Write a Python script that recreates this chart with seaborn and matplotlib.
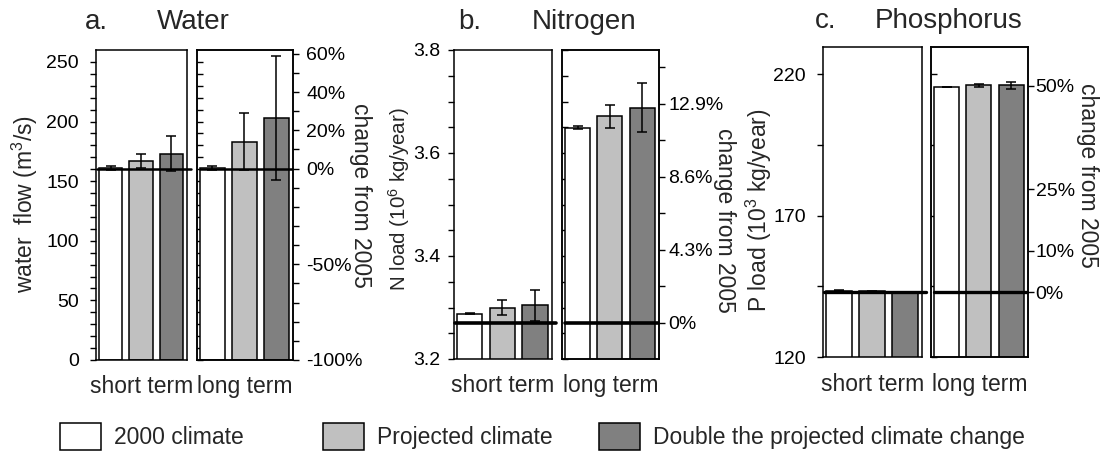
import numpy as np
import matplotlib
matplotlib.use("Agg")
import matplotlib.pyplot as plt
from matplotlib.patches import Patch
from matplotlib.ticker import FixedLocator
import seaborn as sns

# ------------------------------------------------------------------
# data
# ------------------------------------------------------------------
climates = ["2000 climate", "Projected climate", "Double the projected climate change"]
bar_colors = ["#ffffff", "#c0c0c0", "#808080"]

water_short = [161.0, 167.0, 173.0]
water_short_err = [1.5, 6.0, 14.5]
water_long = [161.0, 183.0, 203.0]
water_long_err = [1.5, 24.0, 52.0]
water_base = 160.5                      # 2005 level (0 %)
water_yticks = [0, 50, 100, 150, 200, 250]
water_pct_ticks = [-100, -90, -80, -70, -60, -50, -40, -30, -20, -10, 0, 10, 20, 30, 40, 50, 60]
water_pct_labels = ["-100%", "", "", "", "", "-50%", "", "", "", "", "0%", "", "20%", "", "40%", "", "60%"]

n_short = [3.288, 3.300, 3.304]
n_short_err = [0.0006, 0.015, 0.030]
n_long = [3.649, 3.671, 3.688]
n_long_err = [0.003, 0.022, 0.047]
n_base = 3.27
n_yticks = [3.2, 3.4, 3.6, 3.8]
n_pct_ticks = [-2.15, 0, 2.15, 4.3, 6.45, 8.6, 10.75, 12.9, 15.05]
n_pct_labels = ["", "0%", "", "4.3%", "", "8.6%", "", "12.9%", ""]

p_short = [143.4, 143.2, 142.9]
p_short_err = [0.2, 0.1, 0.1]
p_long = [215.5, 216.0, 216.1]
p_long_err = [0.1, 0.5, 1.2]
p_base = 142.9
p_yticks = [120, 170, 220]
p_pct_ticks = [0, 10, 25, 50]
p_pct_labels = ["0%", "10%", "25%", "50%"]

# ------------------------------------------------------------------
# style
# ------------------------------------------------------------------
sns.set_theme(style="ticks")
plt.rcParams["font.family"] = ["Liberation Sans", "DejaVu Sans"]
plt.rcParams["mathtext.default"] = "regular"
plt.rcParams["axes.edgecolor"] = "black"
plt.rcParams["axes.linewidth"] = 1.1
plt.rcParams["xtick.color"] = "black"
plt.rcParams["ytick.color"] = "black"

W, H = 1106, 454
fig = plt.figure(figsize=(W / 100, H / 100), dpi=100)


def px_axes(x0, x1, y0, y1):
    return fig.add_axes([x0 / W, (H - y1) / H, (x1 - x0) / W, (y1 - y0) / H])


def bars(ax, vals, errs, base, ylim, majors, minor, line_span, line_w):
    sns.barplot(x=climates, y=vals, hue=climates, palette=bar_colors, order=climates,
                hue_order=climates, width=0.77, edgecolor="black", linewidth=1.1,
                errorbar=None, legend=False, ax=ax)
    ax.errorbar(np.arange(len(vals)), vals, yerr=errs, fmt="none", ecolor="black",
                elinewidth=1.1, capsize=3.5, capthick=1.1, zorder=5)
    ax.axhline(base, xmin=line_span[0], xmax=line_span[1], color="black", lw=line_w,
               zorder=4, clip_on=False)
    ax.set_xlim(-0.48, 2.52)
    ax.set_ylim(*ylim)
    ax.set_xticks([])
    ax.set_ylabel("")
    ax.yaxis.set_major_locator(FixedLocator(majors))
    ax.yaxis.set_minor_locator(FixedLocator(np.arange(majors[0], ylim[1], minor)))
    for s in ax.spines.values():
        s.set_visible(True)
        s.set_color("black")


def panel(box_s, box_l, short, short_err, long, long_err, base, per_pct, ylim,
          majors, minor, pct_ticks, pct_labels, line_w, lpad, rpad, xlab_y,
          ylab, ylab_size, ylab_pos, rlab_pos, left_fmt):
    ax_s = px_axes(*box_s)
    ax_l = px_axes(*box_l)
    bars(ax_s, short, short_err, base, ylim, majors, minor, (0.01, 1.04), line_w)
    bars(ax_l, long, long_err, base, ylim, majors, minor, (0.03, 0.985), line_w)

    ax_s.tick_params(axis="y", which="both", direction="out", length=4.5, width=1,
                     labelsize=14, pad=lpad, right=False)
    ax_s.yaxis.set_major_formatter(plt.FuncFormatter(left_fmt))
    ax_l.tick_params(axis="y", which="both", direction="in", length=4.5, width=1,
                     labelleft=False, right=False)

    axr = ax_l.twinx()
    axr.set_ylim((ylim[0] - base) / per_pct, (ylim[1] - base) / per_pct)
    axr.yaxis.set_major_locator(FixedLocator(pct_ticks))
    axr.set_yticklabels(pct_labels)
    axr.tick_params(axis="y", direction="out", length=4.5, width=1, labelsize=14, pad=rpad)
    for s in axr.spines.values():
        s.set_color("black")
    axr.grid(False)

    ax_s.set_xlabel("short term", fontsize=16.5, labelpad=xlab_y)
    ax_l.set_xlabel("long term", fontsize=16.5, labelpad=xlab_y)
    ax_s.set_ylabel(ylab, fontsize=ylab_size)
    ax_s.yaxis.set_label_coords(*ylab_pos)
    axr.set_ylabel("change from 2005", fontsize=16.5, rotation=270, va="center")
    axr.yaxis.set_label_coords(*rlab_pos)
    return ax_s, ax_l, axr


panel((96, 187, 50, 360), (197, 293, 50, 360), water_short, water_short_err,
      water_long, water_long_err, water_base, water_base / 100, (0, 260),
      water_yticks, 10, water_pct_ticks, water_pct_labels, 1.8, 8, 5, 10.5,
      "water  flow (m$^3$/s)", 16.5, (-0.62, 0.503), (1.70, 0.53),
      lambda v, p: f"{v:.0f}")

panel((454, 552, 50, 359), (562, 659, 50, 359), n_short, n_short_err,
      n_long, n_long_err, n_base, 0.033, (3.2, 3.8),
      n_yticks, 0.05, n_pct_ticks, n_pct_labels, 2.6, 5, 2, 10.5,
      "N load (10$^6$ kg/year)", 14.8, (-0.43, 0.518), (1.68, 0.45),
      lambda v, p: f"{v:.1f}")

panel((823, 922, 47, 357), (931, 1028, 47, 357), p_short, p_short_err,
      p_long, p_long_err, p_base, 1.459, (120, 229.6),
      p_yticks, 25, p_pct_ticks, p_pct_labels, 2.4, 8, 1, 11.5,
      "P load (10$^3$ kg/year)", 16.5, (-0.50, 0.474), (1.61, 0.587),
      lambda v, p: f"{v:.0f}")

# panel titles
for x_letter, letter, x_name, name, y in [(85, "a.", 157, "Water", 22),
                                          (458, "b.", 532, "Nitrogen", 22),
                                          (815, "c.", 875, "Phosphorus", 21)]:
    fig.text(x_letter / W, 1 - y / H, letter, fontsize=20, ha="left", va="center")
    fig.text(x_name / W, 1 - y / H, name, fontsize=20, ha="left", va="center")

# legend, one entry per box
for x_box, label, color in zip([60, 323, 599], climates, bar_colors):
    fig.legend(handles=[Patch(facecolor=color, edgecolor="black", linewidth=1.1)],
               labels=[label], loc="upper left", bbox_to_anchor=(x_box / W, 1 - 423 / H),
               frameon=False, fontsize=16.5, handlelength=1.79, handleheight=1.45,
               handletextpad=0.57, borderpad=0, borderaxespad=0)

fig.savefig("out.png", dpi=100)
